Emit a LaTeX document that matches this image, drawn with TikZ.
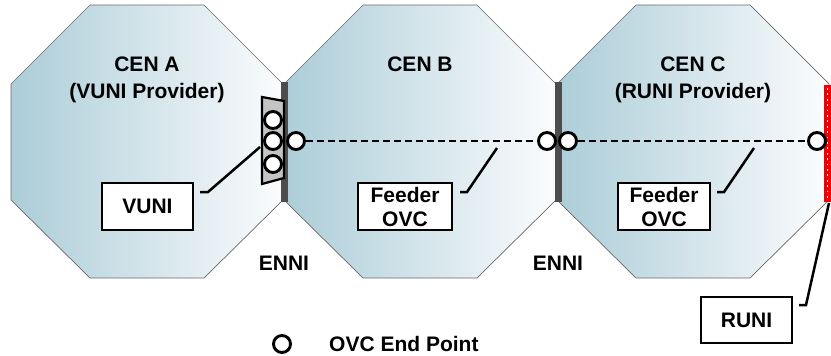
\documentclass[tikz,border=0pt]{standalone}
\usepackage{fontspec}
\setmainfont{Liberation Sans}
\definecolor{cenblue}{RGB}{172,205,216}
\definecolor{cenwhite}{RGB}{251,252,253}
\definecolor{bargray}{RGB}{77,77,77}
\definecolor{trapgray}{RGB}{196,196,196}
\definecolor{octline}{RGB}{105,105,105}
\definecolor{runired}{RGB}{240,0,0}
\begin{document}
\begin{tikzpicture}[x=1pt,y=-1pt,
  oct/.style={draw=octline, line width=0.7pt, left color=cenblue, right color=cenwhite},
  ep/.style={circle, draw=black, line width=2.9pt, fill=white, minimum size=17pt, inner sep=0pt},
  lbl/.style={font=\fontsize{21}{26}\selectfont\bfseries, inner sep=0pt},
  labelbox/.style={draw=black, line width=2.5pt, fill=white, font=\fontsize{21}{24}\selectfont\bfseries, align=center, inner sep=0pt},
  ovcline/.style={line width=2.5pt, dash pattern=on 7pt off 4pt},
  leader/.style={line width=2.5pt},
  enni/.style={fill=bargray, draw=none}]
\useasboundingbox (0,0) rectangle (831,356);
% octagons
\foreach \cx in {147,420,693}{
  \path[oct] (\cx-57,5) -- (\cx+57,5) -- (\cx+136,84) -- (\cx+136,200) -- (\cx+57,278) -- (\cx-57,278) -- (\cx-136,200) -- (\cx-136,84) -- cycle;
}
% ENNI bars
\path[enni] (280.5,82) rectangle (287.5,202);
\path[enni] (554.5,82) rectangle (561.5,202);
% RUNI bar
\fill[runired] (824,85) rectangle (831,202);
\draw[white, line width=1.8pt, dash pattern=on 1.8pt off 3.6pt] (827.5,88) -- (827.5,200);
% VUNI trapezoid
\draw[fill=trapgray, line width=2.2pt, line join=miter] (262,97) -- (284,101) -- (284,178) -- (262,184) -- cycle;
% titles
\node[lbl, anchor=base] (tA1) at (147,71) {CEN A};
\node[lbl, anchor=base] (tA2) at (147,98) {(VUNI Provider)};
\node[lbl, anchor=base] (tB1) at (420,71) {CEN B};
\node[lbl, anchor=base] (tC1) at (693,71) {CEN C};
\node[lbl, anchor=base] (tC2) at (693,98) {(RUNI Provider)};
\node[lbl, anchor=base] (enni1) at (284,270) {ENNI};
\node[lbl, anchor=base] (enni2) at (558,270) {ENNI};
% end points
\node[ep] (v1) at (273,120) {};
\node[ep] (v2) at (273,141) {};
\node[ep] (v3) at (273,164) {};
\node[ep] (b1) at (296,141) {};
\node[ep] (b2) at (547,141) {};
\node[ep] (c1) at (568,141) {};
\node[ep] (c2) at (817,141) {};
\draw[ovcline] (b1) -- (b2);
\draw[ovcline] (c1) -- (c2);
% boxes
\node[labelbox, minimum width=91pt, minimum height=47pt] (vuni) at (147.5,206.5) {VUNI};
\node[labelbox, minimum width=94pt, minimum height=47pt] (fB) at (405,206.5) {Feeder\\OVC};
\node[labelbox, minimum width=92pt, minimum height=47pt] (fC) at (664,206.5) {Feeder\\OVC};
\node[labelbox, minimum width=91pt, minimum height=46pt] (runi) at (746.5,320) {RUNI};
% leaders
\coordinate (vs) at (200,192); \coordinate (vk) at (208,192); \coordinate (ve) at (260,147);
\draw[leader] (vs) -- (vk) -- (ve);
\coordinate (bs) at (460,192); \coordinate (bk) at (467,192); \coordinate (be) at (497,148);
\draw[leader] (bs) -- (bk) -- (be);
\coordinate (cs) at (717,192); \coordinate (ck) at (724,192); \coordinate (ce) at (754,148);
\draw[leader] (cs) -- (ck) -- (ce);
\coordinate (rs) at (799,305); \coordinate (rk) at (806,305); \coordinate (re) at (829,203);
\draw[leader] (rs) -- (rk) -- (re);
% legend
\node[ep] (leg) at (282,344) {};
\node[lbl, anchor=west] (legt) at (329,344) {OVC End Point};
\end{tikzpicture}
\end{document}
